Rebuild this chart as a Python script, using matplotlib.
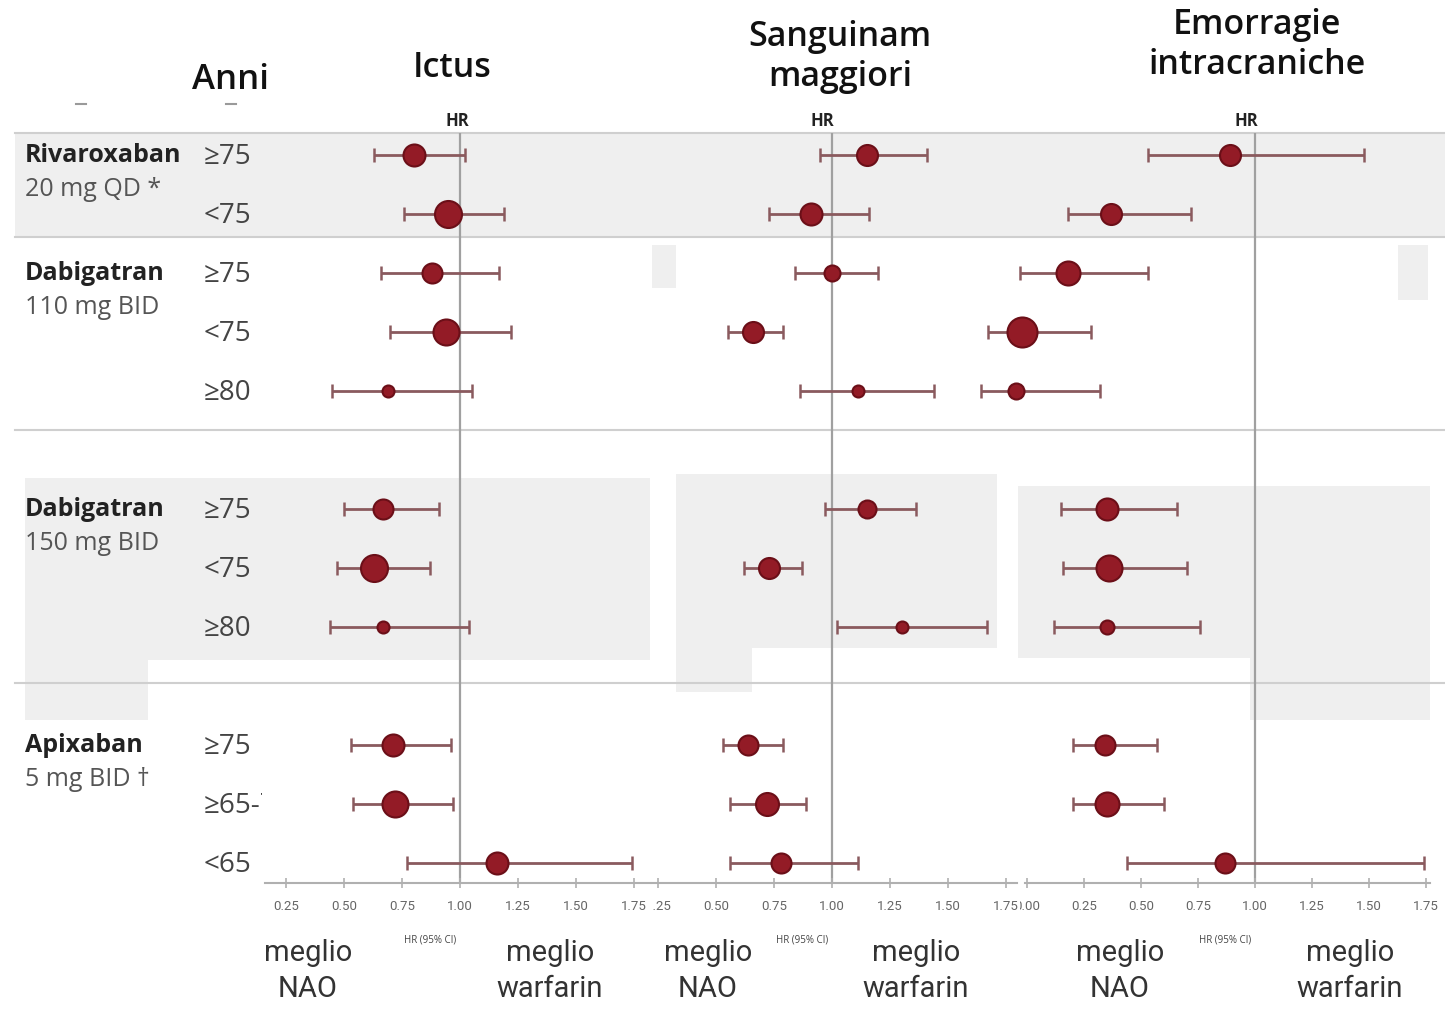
import matplotlib.pyplot as plt
import matplotlib.transforms as mtransforms
from matplotlib.patches import Rectangle

plt.rcParams['font.family'] = ['Open Sans', 'DejaVu Sans']

# dati
farmaci = ['Rivaroxaban', 'Dabigatran', 'Dabigatran', 'Apixaban']
dosi = ['20 mg QD *', '110 mg BID', '150 mg BID', '5 mg BID \u2020']
righe_gruppo = [0, 2, 6, 10]
eta = ['≥75', '<75', '≥75', '<75', '≥80', '≥75', '<75', '≥80', '≥75', '≥65-74', '<65']
righe = [0, 1, 2, 3, 4, 6, 7, 8, 10, 11, 12]

titoli = ['Ictus', 'Sanguinam\nmaggiori', 'Emorragie\nintracraniche']

ictus_hr = [0.80, 0.95, 0.88, 0.94, 0.69, 0.67, 0.63, 0.67, 0.71, 0.72, 1.16]
ictus_lo = [0.63, 0.76, 0.66, 0.70, 0.45, 0.50, 0.47, 0.44, 0.53, 0.54, 0.77]
ictus_hi = [1.02, 1.19, 1.17, 1.22, 1.05, 0.91, 0.87, 1.04, 0.96, 0.97, 1.74]
ictus_dim = [22, 27, 20, 26, 12, 20, 27, 12, 22, 26, 22]

sang_hr = [1.15, 0.91, 1.00, 0.66, 1.11, 1.15, 0.73, 1.30, 0.64, 0.72, 0.78]
sang_lo = [0.95, 0.73, 0.84, 0.55, 0.86, 0.97, 0.62, 1.02, 0.53, 0.56, 0.56]
sang_hi = [1.41, 1.16, 1.20, 0.79, 1.44, 1.36, 0.87, 1.67, 0.79, 0.89, 1.11]
sang_dim = [21, 22, 16, 21, 12, 18, 21, 12, 20, 23, 20]

ich_hr = [0.89, 0.37, 0.18, -0.02, -0.05, 0.35, 0.36, 0.35, 0.34, 0.35, 0.87]
ich_lo = [0.53, 0.18, -0.03, -0.17, -0.20, 0.15, 0.16, 0.12, 0.20, 0.20, 0.44]
ich_hi = [1.48, 0.72, 0.53, 0.28, 0.32, 0.66, 0.70, 0.76, 0.57, 0.60, 1.74]
ich_dim = [21, 21, 24, 30, 16, 22, 26, 14, 20, 24, 20]

tick_val = [0.25, 0.50, 0.75, 1.00, 1.25, 1.50, 1.75]
tick_val3 = [0.00, 0.25, 0.50, 0.75, 1.00, 1.25, 1.50, 1.75]

W, H = 1445, 1009
fig = plt.figure(figsize=(W / 100, H / 100), dpi=100)
bg = fig.add_axes([0, 0, 1, 1])
bg.set_xlim(0, W)
bg.set_ylim(H, 0)
bg.axis('off')

grigio = '#efefef'
for x0, y0, x1, y1 in [(15, 133, 1445, 237), (652, 245, 676, 288), (1398, 245, 1428, 300),
                       (25, 478, 650, 660), (25, 660, 148, 720), (676, 474, 997, 648),
                       (676, 648, 752, 692), (1018, 486, 1430, 658), (1250, 515, 1430, 720)]:
    bg.add_patch(Rectangle((x0, y0), x1 - x0, y1 - y0, color=grigio, lw=0, zorder=0))
for y in [133, 237, 430, 683]:
    bg.plot([15, 1445], [y, y], color='#cfcfcf', lw=1.5, zorder=1)
for x in [81, 231]:
    bg.plot([x - 5, x + 5], [104, 104], color='#9a9a9a', lw=1.5)

y_top, y_bot, y0px, passo = 133, 883, 155, 59
ylim = ((y_bot - y0px) / passo, (y_top - y0px) / passo)

# pannelli: bordo sinistro e destro in pixel, pixel di HR=0, pixel per unita'
pannelli = [(265, 650, 228, 232), (652, 1017, 600, 232), (1025, 1430, 1027, 228)]
serie = [(ictus_hr, ictus_lo, ictus_hi, ictus_dim),
         (sang_hr, sang_lo, sang_hi, sang_dim),
         (ich_hr, ich_lo, ich_hi, ich_dim)]
assi = []
for i, ((xl, xr, x0, k), (hr, lo, hi, dim)) in enumerate(zip(pannelli, serie)):
    ax = fig.add_axes([xl / W, 1 - y_bot / H, (xr - xl) / W, (y_bot - y_top) / H])
    ax.patch.set_alpha(0)
    ax.set_xlim((xl - x0) / k, (xr - x0) / k)
    ax.set_ylim(*ylim)
    for s in ['top', 'right', 'left']:
        ax.spines[s].set_visible(False)
    ax.spines['bottom'].set_color('#b0b0b0')
    ax.spines['bottom'].set_linewidth(1.5)
    ax.set_yticks([])
    tv = tick_val3 if i == 2 else tick_val
    ax.set_xticks(tv)
    ax.set_xticklabels(['%.2f' % v for v in tv], fontsize=9.5, color='#666666',
                       family=['Liberation Sans Narrow', 'Roboto', 'DejaVu Sans'])
    ax.tick_params(axis='x', direction='inout', length=7, color='#b0b0b0', width=1.2, pad=9)
    ax.axvline(1.0, color='#a0a0a0', lw=1.6, zorder=1)
    for j, r in enumerate(righe):
        ax.errorbar(hr[j], r, xerr=[[hr[j] - lo[j]], [hi[j] - hr[j]]], fmt='none',
                    ecolor='#8a5a5e', elinewidth=2, capsize=5, capthick=1.8, zorder=2, clip_on=False)
        ax.plot(hr[j], r, 'o', ms=dim[j] * 0.72, color='#931b26', mec='#6b0f18', mew=1.5,
                zorder=3, clip_on=False)
    ax.set_xlabel('HR (95% CI)', fontsize=7, color='#444444')
    ax.xaxis.set_label_coords((x0 + k - 30 - xl) / (xr - xl), -0.068)
    assi.append(ax)

# le etichette iniziali dei pannelli 2 e 3 sono tagliate a sinistra come nell'originale
fig.canvas.draw()
for ax, xc in [(assi[1], 653), (assi[2], 1020)]:
    lab = ax.get_xticklabels()[0]
    lab.set_clip_on(True)
    lab.set_clip_box(mtransforms.TransformedBbox(
        mtransforms.Bbox([[xc, 0], [W, H]]), bg.transData))

tr = mtransforms.blended_transform_factory(bg.transData, assi[0].transData)
for f, d, r in zip(farmaci, dosi, righe_gruppo):
    bg.text(25, r, f, transform=tr, fontsize=18, fontweight='bold', color='#222222', va='center')
    bg.text(25, r + 0.58, d, transform=tr, fontsize=18, color='#555555', va='center')
clip_eta = mtransforms.TransformedBbox(mtransforms.Bbox([[0, 0], [262, H]]), bg.transData)
for e, r in zip(eta, righe):
    t = bg.text(204, r + 0.03, e, transform=tr, fontsize=20, color='#444444', va='center')
    t.set_clip_on(True)
    t.set_clip_box(clip_eta)

bg.text(230, 80, 'Anni', fontsize=25, fontweight='semibold', ha='center', va='center', color='#111111')
for (x, y), t in zip([(452, 68), (840, 57), (1257, 45)], titoli):
    bg.text(x, y, t, fontsize=24.5, fontweight='semibold', ha='center', va='center',
            color='#111111', linespacing=1.2)
for x in [457, 822, 1246]:
    bg.text(x, 121, 'HR', fontsize=12, fontweight='bold', ha='center', va='center', color='#222222')

for xn, xw in [(308, 550), (708, 916), (1120, 1350)]:
    bg.text(xn, 971, 'meglio\nNAO', fontsize=21, ha='center', va='center', color='#333333',
            family=['Roboto', 'DejaVu Sans'], linespacing=1.4)
    bg.text(xw, 971, 'meglio\nwarfarin', fontsize=21, ha='center', va='center', color='#333333',
            family=['Roboto', 'DejaVu Sans'], linespacing=1.4)

fig.savefig('out.png', dpi=100)
